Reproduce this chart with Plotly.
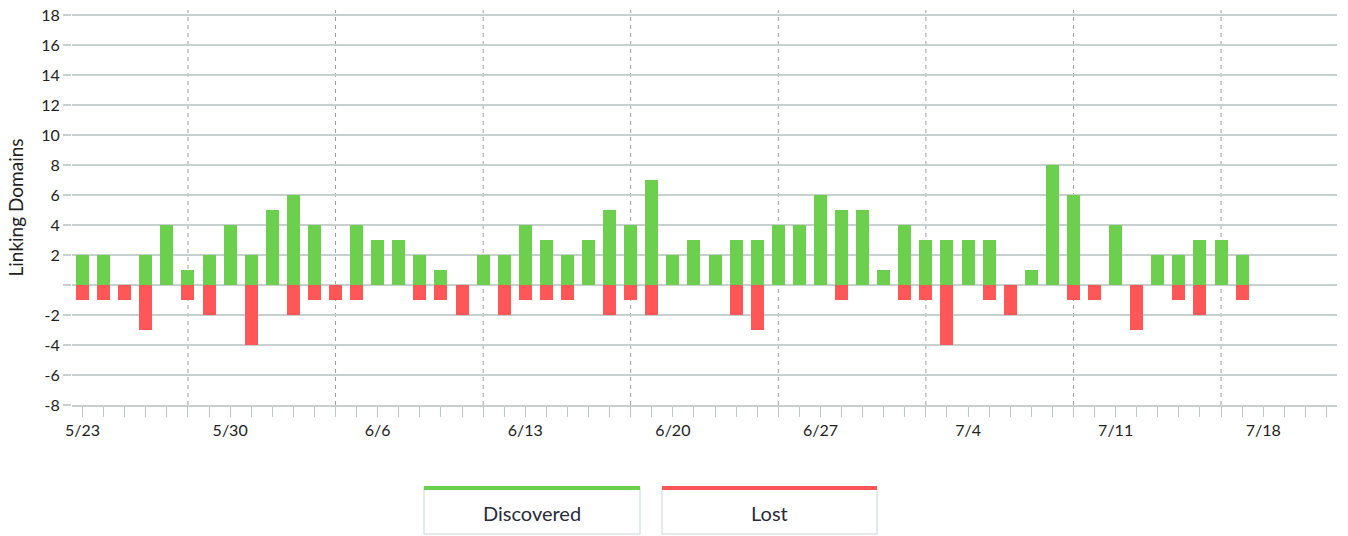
import plotly.graph_objects as go
import pandas as pd

start_date = "2016-05-23"
discovered = [2, 2, 0, 2, 4, 1, 2, 4, 2, 5, 6, 4, 0, 4, 3, 3, 2, 1,
              0, 2, 2, 4, 3, 2, 3, 5, 4, 7, 2, 3, 2, 3, 3, 4, 4, 6, 5, 5, 1,
              4, 3, 3, 3, 3, 0, 1, 8, 6, 0, 4, 0, 2, 2, 3, 3, 2]
lost = [-1, -1, -1, -3, 0, -1, -2, 0, -4, 0, -2, -1, -1, -1, 0, 0, -1, -1,
        -2, 0, -2, -1, -1, -1, 0, -2, -1, -2, 0, 0, 0, -2, -3, 0, 0, 0, -1, 0, 0,
        -1, -1, -4, 0, -1, -2, 0, 0, -1, -1, 0, -3, 0, -1, -2, 0, -1]
dates = pd.date_range(start_date, periods=len(discovered), freq="D")

label_dates = pd.date_range("2016-05-23", "2016-07-18", freq="7D")
label_text = [f"{d.month}/{d.day}" for d in label_dates]
grid_dates = pd.date_range("2016-05-28", "2016-07-16", freq="7D")
y_ticks = list(range(-8, 19, 2))
y_text = ["" if v == 0 else str(v) for v in y_ticks]

GREEN = "#6CD04E"
RED = "#FF5757"
GRID = "#C8CFCF"
FONT = "Lato"
TXT = "#222222"

day_ms = 86400000
x_range = ["2016-05-22 12:00", "2016-07-21 12:00"]

fig = go.Figure()
fig.add_trace(go.Bar(x=dates, y=discovered, name="Discovered", marker_color=GREEN,
                     marker_line_width=0, width=0.62 * day_ms))
fig.add_trace(go.Bar(x=dates, y=lost, name="Lost", marker_color=RED,
                     marker_line_width=0, width=0.62 * day_ms))

# body margin is removed in the page (post_script), so figure px = screen px
W, H = 1348, 536
L, T = 72, 10
R = W - 1337
B = H - 405
pw = W - L - R
ph = H - T - B

def px(x):
    return (x - L) / pw

def py(y):
    return (H - B - y) / ph

shapes = []
# weekly dashed vertical gridlines
for d in grid_dates:
    shapes.append(dict(type="line", xref="x", yref="paper", x0=d, x1=d, y0=0, y1=1,
                       line=dict(color="#A0A0A0", width=1, dash="4px,4px"), layer="below"))

annotations = []
legend_items = [("Discovered", GREEN, 424, 640), ("Lost", RED, 662, 877)]
for name, col, x0, x1 in legend_items:
    shapes.append(dict(type="rect", xref="paper", yref="paper",
                       x0=px(x0), x1=px(x1), y0=py(534), y1=py(488),
                       line=dict(color="#DDE3E3", width=1.5), fillcolor="white"))
    shapes.append(dict(type="rect", xref="paper", yref="paper",
                       x0=px(x0), x1=px(x1), y0=py(490), y1=py(486),
                       line=dict(width=0), fillcolor=col))
    annotations.append(dict(xref="paper", yref="paper", x=px((x0 + x1) / 2), y=py(513),
                            text=name, showarrow=False,
                            font=dict(family=FONT, size=20, color="#2B2B3B"),
                            xanchor="center", yanchor="middle"))

fig.update_layout(
    width=W, height=H,
    margin=dict(l=L, r=R, t=T, b=B, pad=0, autoexpand=False),
    barmode="relative",
    bargap=0,
    showlegend=False,
    plot_bgcolor="white",
    paper_bgcolor="white",
    font=dict(family=FONT, size=16, color=TXT),
    shapes=shapes,
    annotations=annotations,
    xaxis=dict(
        type="date", range=x_range, automargin=False,
        tickmode="array", tickvals=label_dates, ticktext=label_text,
        showgrid=False, zeroline=False,
        ticks="outside", ticklen=10, tickcolor="#BFC6C6", tickwidth=1,
        showline=True, linecolor=GRID, linewidth=2,
        minor=dict(dtick=day_ms, tick0="2016-05-23", ticks="outside", ticklen=10,
                   tickcolor="#BFC6C6", tickwidth=1, showgrid=False),
        tickfont=dict(family=FONT, size=16, color=TXT),
        ticklabeloverflow="allow",
    ),
    yaxis=dict(
        range=[-8, 18.33], automargin=False,
        tickmode="array", tickvals=y_ticks, ticktext=y_text,
        showgrid=True, gridcolor=GRID, gridwidth=1.5,
        zeroline=False, ticks="outside", ticklen=8, tickcolor=GRID, tickwidth=1.5,
        showline=False,
        ticklabeloverflow="allow",
        title=dict(text="Linking Domains", font=dict(family=FONT, size=19, color=TXT),
                   standoff=12),
        tickfont=dict(family=FONT, size=16, color=TXT),
    ),
)

fig.write_html("out.html",
               config={"displayModeBar": False},
               post_script="document.body.style.margin='0';document.body.style.overflow='hidden';")
